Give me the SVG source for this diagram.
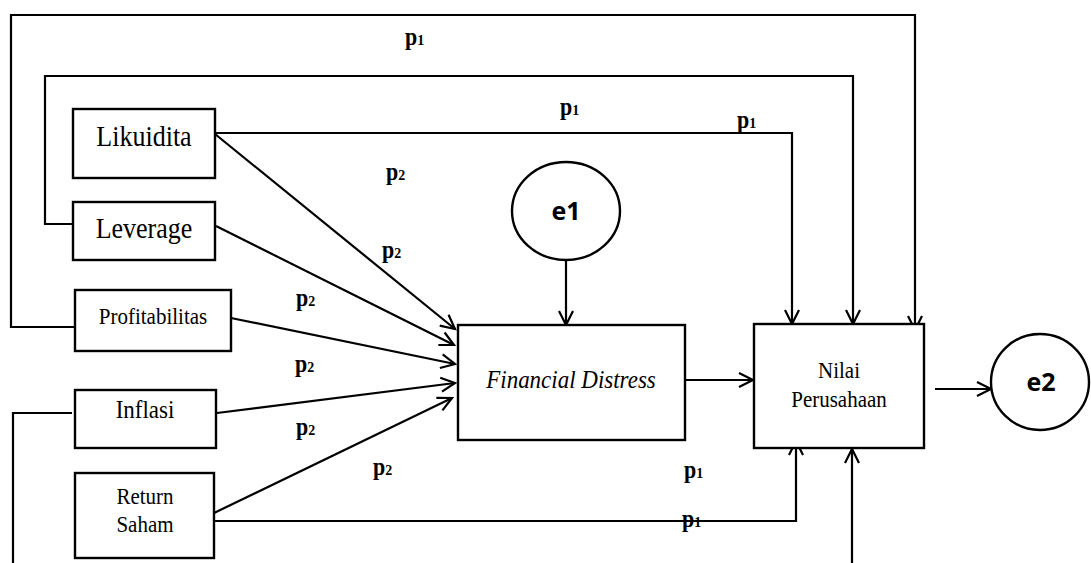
<svg xmlns="http://www.w3.org/2000/svg" width="1091" height="563" viewBox="0 0 1091 563">
<style>
.box{fill:#fff;stroke:#000;stroke-width:2.4}
.oval{fill:#fff;stroke:#000;stroke-width:2.4}
.ln{fill:none;stroke:#000;stroke-width:2.2}
.arr{marker-end:url(#ah)}
.t{font-family:"Liberation Serif","Times New Roman",serif;fill:#000;text-anchor:middle}
.e{font-family:"Open Sans","Noto Sans",sans-serif;font-weight:bold;font-size:25px;fill:#000;text-anchor:middle}
.p{font-family:"Liberation Serif","Times New Roman",serif;font-weight:bold;font-size:22px;fill:#000}
.s{font-size:14px}
</style>
<defs>
<marker id="ah" viewBox="0 0 16 16" refX="15" refY="8" markerWidth="16" markerHeight="16" markerUnits="userSpaceOnUse" orient="auto" overflow="visible">
<path d="M1,1 L15,8 L1,15" fill="none" stroke="#000" stroke-width="2.2"/>
</marker>
</defs>
<g id="connectors">
<path class="ln arr" d="M75,327 L11,327 L11,15 L915,15 L915,330"/>
<path class="ln arr" d="M73,224 L45,224 L45,76 L853,76 L853,324"/>
<path class="ln arr" d="M215,133 L792,133 L792,324"/>
<path class="ln arr" d="M214,521 L796,521 L796,441"/>
<path class="ln arr" d="M72,413 L13,413 L13,600 L852,600 L852,449"/>
<path class="ln arr" d="M215,134 L455,329"/>
<path class="ln arr" d="M216,226 L454,345"/>
<path class="ln arr" d="M231,318 L455,364"/>
<path class="ln arr" d="M217,413 L455,383"/>
<path class="ln arr" d="M214,513 L452,398"/>
<path class="ln arr" d="M566,260 L566,325"/>
<path class="ln arr" d="M685,380 L753,380"/>
<path class="ln arr" d="M935,389 L991,389"/>
</g>
<g id="labels">
<text class="p" transform="translate(405,45) scale(1,1.1)">p<tspan class="s">1</tspan></text>
<text class="p" transform="translate(560,115) scale(1,1.1)">p<tspan class="s">1</tspan></text>
<text class="p" transform="translate(737,128) scale(1,1.1)">p<tspan class="s">1</tspan></text>
<text class="p" transform="translate(386,180) scale(1,1.1)">p<tspan class="s">2</tspan></text>
<text class="p" transform="translate(382,258) scale(1,1.1)">p<tspan class="s">2</tspan></text>
<text class="p" transform="translate(296,306) scale(1,1.1)">p<tspan class="s">2</tspan></text>
<text class="p" transform="translate(295,372) scale(1,1.1)">p<tspan class="s">2</tspan></text>
<text class="p" transform="translate(296,435) scale(1,1.1)">p<tspan class="s">2</tspan></text>
<text class="p" transform="translate(373,475) scale(1,1.1)">p<tspan class="s">2</tspan></text>
<text class="p" transform="translate(684,478) scale(1,1.1)">p<tspan class="s">1</tspan></text>
<text class="p" transform="translate(682,527) scale(1,1.1)">p<tspan class="s">1</tspan></text>
</g>
<g id="likuidita">
<rect class="box" x="73" y="109" width="142" height="69"/>
<text class="t" transform="translate(144,146) scale(1,1.1)" font-size="26">Likuidita</text>
</g>
<g id="leverage">
<rect class="box" x="73" y="202" width="142" height="58"/>
<text class="t" transform="translate(144,238) scale(1,1.1)" font-size="26">Leverage</text>
</g>
<g id="profitabilitas">
<rect class="box" x="75" y="290" width="156" height="61"/>
<text class="t" transform="translate(153,324) scale(1,1.1)" font-size="21">Profitabilitas</text>
</g>
<g id="inflasi">
<rect class="box" x="75" y="390" width="141" height="58"/>
<text class="t" transform="translate(145,418) scale(1,1.1)" font-size="23">Inflasi</text>
</g>
<g id="return-saham">
<rect class="box" x="75" y="473" width="139" height="85"/>
<text class="t" transform="translate(145,504) scale(1,1.1)" font-size="21">Return</text>
<text class="t" transform="translate(145,532) scale(1,1.1)" font-size="21">Saham</text>
</g>
<g id="financial-distress">
<rect class="box" x="458" y="325" width="227" height="115"/>
<text class="t" transform="translate(571,388) scale(1,1.1)" font-size="23" font-style="italic">Financial Distress</text>
</g>
<g id="nilai-perusahaan">
<rect class="box" x="754" y="324" width="170" height="124"/>
<text class="t" transform="translate(839,378) scale(1,1.1)" font-size="21">Nilai</text>
<text class="t" transform="translate(839,407) scale(1,1.1)" font-size="21">Perusahaan</text>
</g>
<g id="e1">
<ellipse class="oval" cx="566" cy="211" rx="54" ry="49"/>
<text class="e" x="566" y="220">e1</text>
</g>
<g id="e2">
<ellipse class="oval" cx="1040" cy="382" rx="49" ry="48"/>
<text class="e" x="1041" y="391">e2</text>
</g>
</svg>
